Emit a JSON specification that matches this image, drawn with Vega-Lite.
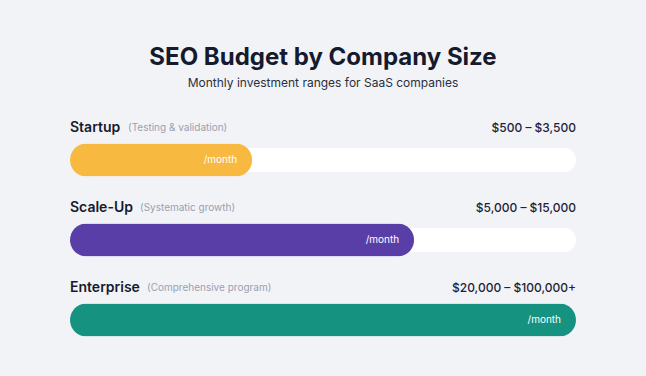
{
  "$schema": "https://vega.github.io/schema/vega-lite/v6.json",
  "width": 506,
  "height": 240,
  "autosize": "none",
  "padding": {"left": 70, "right": 70, "top": 120, "bottom": 16},
  "background": "#f2f3f7",
  "config": {"view": {"stroke": null}, "font": "Inter"},
  "title": {
    "text": "SEO Budget by Company Size",
    "subtitle": "Monthly investment ranges for SaaS companies",
    "anchor": "middle",
    "font": "Inter",
    "fontSize": 24,
    "fontWeight": 700,
    "color": "#151a2d",
    "subtitleFont": "Inter",
    "subtitleFontSize": 12,
    "subtitleColor": "#2a2f3e",
    "subtitlePadding": 8,
    "offset": 31
  },
  "data": {
    "values": [
      {"company": "Startup", "note": "(Testing & validation)", "range": "$500 – $3,500", "value": 36, "color": "#f7b940"},
      {"company": "Scale-Up", "note": "(Systematic growth)", "range": "$5,000 – $15,000", "value": 68, "color": "#5a3ea8"},
      {"company": "Enterprise", "note": "(Comprehensive program)", "range": "$20,000 – $100,000+", "value": 100, "color": "#169280"}
    ]
  },
  "encoding": {
    "y": {"field": "company", "type": "nominal", "sort": null, "axis": null, "scale": {"paddingInner": 0, "paddingOuter": 0}}
  },
  "layer": [
    {
      "mark": {"type": "bar", "size": 24, "cornerRadius": 12, "color": "#ffffff"},
      "encoding": {
        "x": {"datum": 100, "type": "quantitative", "scale": {"domain": [0, 100], "nice": false, "zero": true}, "axis": null}
      }
    },
    {
      "mark": {"type": "bar", "size": 33, "cornerRadius": 16.5},
      "encoding": {
        "x": {"field": "value", "type": "quantitative"},
        "color": {"field": "color", "type": "nominal", "scale": null, "legend": null}
      }
    },
    {
      "mark": {"type": "text", "align": "right", "baseline": "middle", "dx": -15, "fontSize": 10, "color": "#ffffff"},
      "encoding": {
        "x": {"field": "value", "type": "quantitative"},
        "text": {"value": "/month"}
      }
    },
    {
      "mark": {"type": "text", "align": "left", "baseline": "middle", "dy": -32, "fontSize": 14, "fontWeight": 600, "color": "#151a2d"},
      "encoding": {
        "x": {"datum": 0, "type": "quantitative"},
        "text": {"field": "company"}
      }
    },
    {
      "transform": [{"filter": "datum.company == 'Startup'"}],
      "mark": {"type": "text", "align": "left", "baseline": "middle", "dy": -32, "dx": 58, "fontSize": 10, "color": "#9aa0b0"},
      "encoding": {
        "x": {"datum": 0, "type": "quantitative"},
        "text": {"field": "note"}
      }
    },
    {
      "transform": [{"filter": "datum.company == 'Scale-Up'"}],
      "mark": {"type": "text", "align": "left", "baseline": "middle", "dy": -32, "dx": 70, "fontSize": 10, "color": "#9aa0b0"},
      "encoding": {
        "x": {"datum": 0, "type": "quantitative"},
        "text": {"field": "note"}
      }
    },
    {
      "transform": [{"filter": "datum.company == 'Enterprise'"}],
      "mark": {"type": "text", "align": "left", "baseline": "middle", "dy": -32, "dx": 77, "fontSize": 10, "color": "#9aa0b0"},
      "encoding": {
        "x": {"datum": 0, "type": "quantitative"},
        "text": {"field": "note"}
      }
    },
    {
      "mark": {"type": "text", "align": "right", "baseline": "middle", "dy": -32, "fontSize": 12, "fontWeight": 500, "color": "#1e2235"},
      "encoding": {
        "x": {"datum": 100, "type": "quantitative"},
        "text": {"field": "range"}
      }
    }
  ]
}
